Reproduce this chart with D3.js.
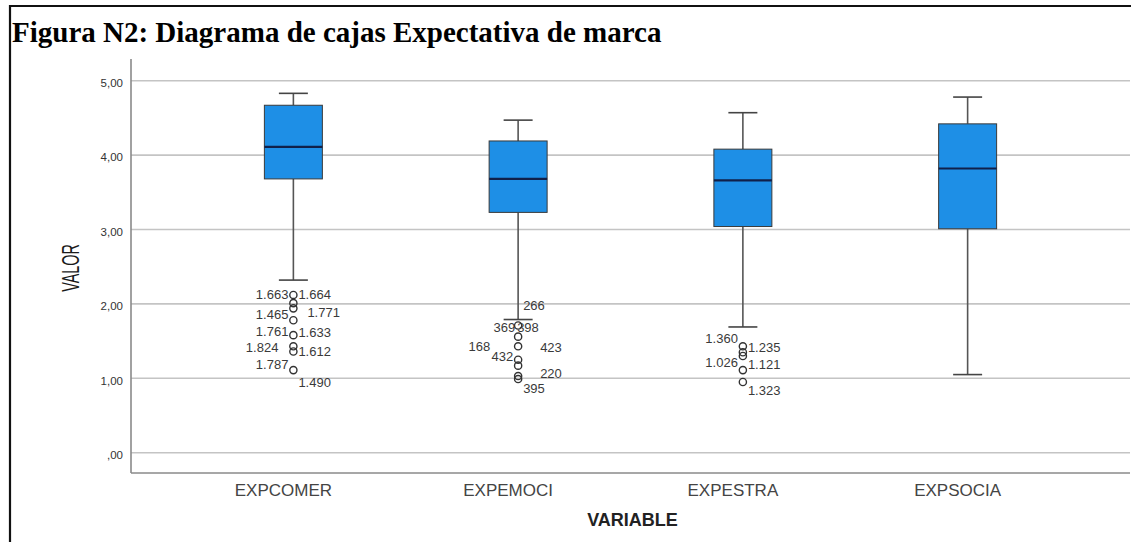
<!DOCTYPE html>
<html>
<head>
<meta charset="utf-8">
<script src="https://cdn.jsdelivr.net/npm/d3@7/dist/d3.min.js"></script>
<style>
  html, body { margin: 0; padding: 0; background: #fff; }
  svg { display: block; }
</style>
</head>
<body>
<svg id="chart" width="1131" height="542"></svg>
<script>
// Five-number summaries per variable (scale 0-5)
const categories   = ["EXPCOMER", "EXPEMOCI", "EXPESTRA", "EXPSOCIA"];
const whiskerLow   = [2.32, 1.79, 1.69, 1.05];
const quartile1    = [3.68, 3.23, 3.04, 3.01];
const medians      = [4.11, 3.68, 3.66, 3.82];
const quartile3    = [4.67, 4.19, 4.08, 4.42];
const whiskerHigh  = [4.83, 4.47, 4.57, 4.78];

// Atypical cases (open circles) per variable
const outliers = [
  [2.12, 2.01, 1.94, 1.78, 1.58, 1.43, 1.36, 1.11],
  [1.71, 1.56, 1.43, 1.25, 1.17, 1.03, 0.99],
  [1.43, 1.35, 1.30, 1.11, 0.95],
  []
];

// Case numbers printed next to the atypical cases
const caseLabels = [
  [
    { text: "1.663", value: 2.13, side: "L" },
    { text: "1.664", value: 2.13, side: "R" },
    { text: "1.465", value: 1.86, side: "L" },
    { text: "1.771", value: 1.88, side: "RR" },
    { text: "1.761", value: 1.63, side: "L" },
    { text: "1.633", value: 1.61, side: "R" },
    { text: "1.824", value: 1.42, side: "LL" },
    { text: "1.612", value: 1.36, side: "R" },
    { text: "1.787", value: 1.18, side: "L" },
    { text: "1.490", value: 0.94, side: "R" }
  ],
  [
    { text: "266", value: 1.98, side: "R" },
    { text: "369", value: 1.69, side: "Lc" },
    { text: "398", value: 1.69, side: "Rc" },
    { text: "168", value: 1.43, side: "LLL" },
    { text: "432", value: 1.30, side: "L" },
    { text: "423", value: 1.41, side: "RRR" },
    { text: "220", value: 1.07, side: "RRR" },
    { text: "395", value: 0.87, side: "R" }
  ],
  [
    { text: "1.360", value: 1.54, side: "L" },
    { text: "1.235", value: 1.42, side: "R" },
    { text: "1.026", value: 1.21, side: "L" },
    { text: "1.121", value: 1.18, side: "R" },
    { text: "1.323", value: 0.83, side: "R" }
  ],
  []
];

const yTicks      = [0, 1, 2, 3, 4, 5];
const yTickLabels = [",00", "1,00", "2,00", "3,00", "4,00", "5,00"];

const titleText = "Figura N2: Diagrama de cajas Expectativa de marca";
const yTitle = "VALOR";
const xTitle = "VARIABLE";

// ---- layout ----
const svg = d3.select("#chart");
const plot = { left: 131, right: 1130, top: 59, bottom: 473 };

const x = d3.scaleBand()
  .domain(categories)
  .range([plot.left + 50, plot.right - 50])
  .paddingInner(0)
  .paddingOuter(0);

const y = d3.scaleLinear()
  .domain([0, 5])
  .range([452.7, 80.7]);

const boxW = x.bandwidth() * 0.258;
const capW = boxW * 0.5;
const cx = c => x(c) + x.bandwidth() / 2;

// page frame
svg.append("line").attr("x1", 9).attr("x2", 1131).attr("y1", 6).attr("y2", 6)
  .attr("stroke", "#111").attr("stroke-width", 2);
svg.append("line").attr("x1", 10).attr("x2", 10).attr("y1", 5).attr("y2", 542)
  .attr("stroke", "#111").attr("stroke-width", 2.2);

// title
svg.append("text")
  .attr("x", 12).attr("y", 42)
  .attr("font-family", "'Liberation Serif', 'Times New Roman', serif")
  .attr("font-weight", "bold")
  .attr("font-size", 29)
  .attr("fill", "#000")
  .text(titleText);

// gridlines
const grid = svg.append("g");
grid.selectAll("line").data(yTicks).join("line")
  .attr("x1", plot.left).attr("x2", plot.right)
  .attr("y1", d => y(d)).attr("y2", d => y(d))
  .attr("stroke", "#c4c4c4").attr("stroke-width", 1.6);

// y axis
const yAxis = d3.axisLeft(y)
  .tickValues(yTicks)
  .tickSize(0)
  .tickPadding(8)
  .tickFormat((d, i) => yTickLabels[i]);
const gy = svg.append("g").attr("transform", `translate(${plot.left},0)`).call(yAxis);
gy.select(".domain").remove();
gy.selectAll("text")
  .attr("font-family", "'Liberation Sans', Arial, sans-serif")
  .attr("font-size", 11.5)
  .attr("fill", "#333")
  .attr("dy", "0.5em");

// axis frame lines
svg.append("line").attr("x1", plot.left).attr("x2", plot.left)
  .attr("y1", plot.top).attr("y2", plot.bottom)
  .attr("stroke", "#8a8a8a").attr("stroke-width", 1.6);
svg.append("line").attr("x1", plot.left).attr("x2", plot.right)
  .attr("y1", plot.bottom).attr("y2", plot.bottom)
  .attr("stroke", "#8a8a8a").attr("stroke-width", 1.6);

// x axis labels
const xAxis = d3.axisBottom(x).tickSize(0).tickPadding(11);
const gx = svg.append("g").attr("transform", `translate(0,${plot.bottom})`).call(xAxis);
gx.select(".domain").remove();
gx.selectAll("text")
  .attr("dx", -10)
  .attr("font-family", "'Liberation Sans', Arial, sans-serif")
  .attr("font-size", 17)
  .attr("fill", "#444");

// axis titles
svg.append("text")
  .attr("transform", "translate(79,268) rotate(-90) scale(0.6,1)")
  .attr("text-anchor", "middle")
  .attr("font-family", "'Liberation Sans', Arial, sans-serif")
  .attr("font-size", 24)
  .attr("fill", "#1a1a1a")
  .text(yTitle);

svg.append("text")
  .attr("x", (plot.left + plot.right) / 2 + 2).attr("y", 526)
  .attr("text-anchor", "middle")
  .attr("font-family", "'Liberation Sans', Arial, sans-serif")
  .attr("font-weight", "bold")
  .attr("font-size", 18)
  .attr("fill", "#222")
  .text(xTitle);

// boxes
const stats = categories.map((c, i) => ({
  c, lo: whiskerLow[i], q1: quartile1[i], med: medians[i], q3: quartile3[i], hi: whiskerHigh[i],
  out: outliers[i], labels: caseLabels[i]
}));

const g = svg.append("g");
const boxes = g.selectAll("g.box").data(stats).join("g").attr("class", "box");

// whiskers
boxes.append("line")
  .attr("x1", d => cx(d.c)).attr("x2", d => cx(d.c))
  .attr("y1", d => y(d.hi)).attr("y2", d => y(d.q3))
  .attr("stroke", "#555").attr("stroke-width", 1.6);
boxes.append("line")
  .attr("x1", d => cx(d.c)).attr("x2", d => cx(d.c))
  .attr("y1", d => y(d.q1)).attr("y2", d => y(d.lo))
  .attr("stroke", "#555").attr("stroke-width", 1.6);
// caps
boxes.append("line")
  .attr("x1", d => cx(d.c) - capW / 2).attr("x2", d => cx(d.c) + capW / 2)
  .attr("y1", d => y(d.hi)).attr("y2", d => y(d.hi))
  .attr("stroke", "#444").attr("stroke-width", 1.6);
boxes.append("line")
  .attr("x1", d => cx(d.c) - capW / 2).attr("x2", d => cx(d.c) + capW / 2)
  .attr("y1", d => y(d.lo)).attr("y2", d => y(d.lo))
  .attr("stroke", "#444").attr("stroke-width", 1.6);
// box body
boxes.append("rect")
  .attr("x", d => cx(d.c) - boxW / 2)
  .attr("width", boxW)
  .attr("y", d => y(d.q3))
  .attr("height", d => y(d.q1) - y(d.q3))
  .attr("fill", "#1e8fe6")
  .attr("stroke", "#3a3a3a").attr("stroke-width", 1);
// median
boxes.append("line")
  .attr("x1", d => cx(d.c) - boxW / 2).attr("x2", d => cx(d.c) + boxW / 2)
  .attr("y1", d => y(d.med)).attr("y2", d => y(d.med))
  .attr("stroke", "#10204a").attr("stroke-width", 2.2);

// atypical cases
boxes.each(function (d) {
  d3.select(this).selectAll("circle").data(d.out).join("circle")
    .attr("cx", cx(d.c))
    .attr("cy", v => y(v))
    .attr("r", 3.6)
    .attr("fill", "none")
    .attr("stroke", "#333")
    .attr("stroke-width", 1.4);
});

const sideOffset = { L: -5, LL: -15, LLL: -28, Lc: -3, R: 5, RR: 14, RRR: 22, Rc: -1 };
boxes.each(function (d) {
  d3.select(this).selectAll("text.case").data(d.labels).join("text")
    .attr("class", "case")
    .attr("x", l => cx(d.c) + sideOffset[l.side])
    .attr("y", l => y(l.value))
    .attr("dy", "0.35em")
    .attr("text-anchor", l => l.side.startsWith("L") ? "end" : "start")
    .attr("font-family", "'Liberation Sans', Arial, sans-serif")
    .attr("font-size", 13)
    .attr("fill", "#3a3a3a")
    .text(l => l.text);
});
</script>
</body>
</html>
